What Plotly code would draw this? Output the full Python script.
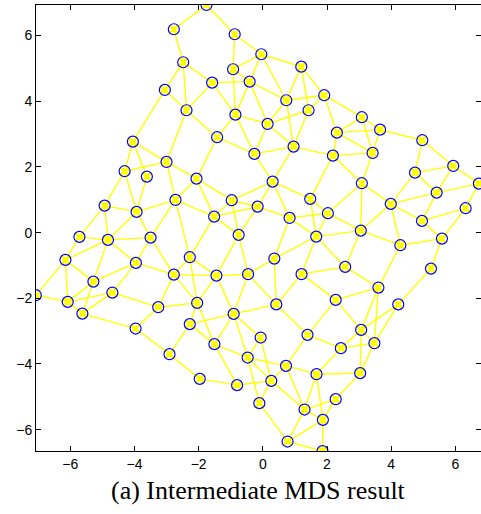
import plotly.graph_objects as go

# Node positions (data units)
node_x = [-1.757, -2.774, -0.877, -2.482, -0.047, -0.927, 1.198, -3.054, -1.580, -0.411,
          1.913, 0.731, -2.379, -0.855, 1.425, 3.086, 0.149, 3.655, 2.308, -4.050,
          -1.425, 4.970, 0.958, -0.264, 2.184, 3.421, -3.002, -4.308, -3.614, 5.935,
          4.743, 6.734, 3.086, -2.068, 0.305, 5.418, -2.722, -4.930, -3.935, 1.477,
          -0.970, 3.988, 6.320, -0.162, 2.028, -1.518, 0.834, 4.961, 3.054, -5.717,
          -4.827, -3.499, -0.753, 1.664, 5.583, 4.286, -2.277, -6.152, 0.358, -2.774,
          -1.446, -0.460, 1.207, 2.566, 5.241, -5.281, -4.690, -7.076, 3.602, -6.081,
          -3.260, -2.047, 0.420, 2.271, 4.221, -5.624, -0.908, -2.277, -3.966, 3.064,
          -0.068, 1.393, -1.509, 3.477, 2.432, -2.908, -0.473, 0.722, 1.673, 3.033,
          -1.966, 0.264, -0.802, 2.271, -0.109, 1.300, 1.872, 0.771, 1.860, -3.956]
node_y = [6.932, 6.192, 6.040, 5.187, 5.431, 4.974, 5.053, 4.344, 4.566, 4.597,
          4.183, 4.030, 3.726, 3.592, 3.726, 3.513, 3.309, 3.135, 3.044, 2.770,
          2.904, 2.813, 2.618, 2.396, 2.344, 2.426, 2.152, 1.869, 1.705, 2.030,
          1.826, 1.492, 1.504, 1.644, 1.553, 1.218, 0.995, 0.822, 0.630, 1.026,
          0.986, 0.874, 0.743, 0.791, 0.591, 0.487, 0.447, 0.356, 0.061, -0.131,
          -0.222, -0.152, -0.070, -0.122, -0.183, -0.384, -0.749, -0.831, -0.791, -1.279,
          -1.309, -1.266, -1.266, -1.044, -1.096, -1.492, -1.826, -1.906, -1.674, -2.110,
          -2.271, -2.140, -2.186, -2.049, -2.186, -2.466, -2.475, -2.788, -2.922, -2.962,
          -3.196, -3.114, -3.397, -3.367, -3.519, -3.702, -3.805, -4.058, -4.311, -4.280,
          -4.454, -4.514, -4.645, -5.072, -5.193, -5.388, -5.702, -6.362, -6.654, -0.922]

# Edges (1-based node numbers)
edge_from = [1, 1, 2, 3, 3, 4, 4, 4, 5, 5, 5, 5, 6, 6, 7, 7, 7, 8, 8, 9, 9, 9,
             10, 10, 10, 11, 11, 11, 11, 12, 12, 13, 13, 14, 14, 14, 15, 15,
             16, 16, 16, 17, 17, 18, 18, 18, 19, 19, 20, 20, 20, 21, 21, 22, 22,
             23, 23, 23, 25, 25, 25, 26, 27, 27, 27, 28, 28, 29, 30, 30, 30,
             31, 31, 32, 32, 33, 33, 33, 34, 34, 34, 35, 35, 35, 35, 24, 36, 36,
             37, 37, 37, 37, 38, 38, 38, 39, 39, 40, 40, 41, 41, 41, 42, 42, 42,
             43, 43, 44, 44, 44, 45, 45, 45, 46, 46, 47, 47, 48, 49, 49, 49,
             50, 50, 51, 51, 51, 51, 52, 52, 53, 53, 54, 54, 54, 55, 55, 56,
             57, 57, 57, 58, 58, 58, 59, 59, 60, 60, 60, 60, 61, 61, 61, 62, 62,
             63, 63, 63, 64, 65, 66, 66, 66, 67, 67, 67, 67, 68, 69, 69, 69, 70,
             71, 71, 72, 72, 73, 73, 74, 74, 75, 75, 76, 77, 77, 77, 77, 78, 78,
             79, 80, 80, 80, 81, 81, 82, 82, 83, 83, 84, 84, 85, 86, 87, 87, 87,
             88, 88, 88, 89, 89, 89, 90, 91, 92, 92, 92, 94, 94, 95, 96, 96,
             97, 97, 98]
edge_to = [2, 3, 4, 5, 6, 8, 9, 13, 6, 7, 10, 12, 10, 14, 11, 12, 15, 13, 20, 10, 13, 14,
           12, 14, 17, 12, 15, 16, 19, 17, 23, 21, 27, 17, 21, 24, 17, 23,
           18, 19, 26, 23, 24, 19, 22, 26, 25, 26, 27, 28, 29, 24, 34, 30, 31,
           24, 25, 35, 26, 33, 40, 33, 28, 34, 37, 38, 39, 39, 31, 32, 36,
           36, 42, 36, 43, 42, 49, 45, 37, 41, 46, 40, 41, 44, 47, 35, 42, 48,
           39, 46, 52, 57, 39, 50, 51, 51, 52, 45, 54, 44, 46, 53, 48, 49, 56,
           48, 55, 46, 47, 53, 47, 54, 49, 53, 57, 54, 59, 55, 54, 56, 64,
           51, 58, 52, 58, 100, 66, 100, 60, 61, 62, 59, 63, 64, 56, 65, 69,
           60, 61, 72, 66, 68, 70, 62, 73, 61, 71, 72, 100, 62, 72, 77, 73, 77,
           64, 73, 74, 69, 75, 70, 76, 100, 70, 71, 76, 100, 70, 74, 80, 84, 76,
           72, 79, 78, 83, 77, 82, 80, 82, 80, 84, 79, 78, 83, 81, 87, 83, 86,
           86, 84, 85, 90, 87, 92, 85, 88, 87, 93, 85, 90, 89, 91, 88, 92, 95,
           89, 92, 96, 90, 96, 97, 94, 93, 93, 95, 96, 96, 97, 98, 97, 98,
           98, 99, 99]

x_ticks = [-6, -4, -2, 0, 2, 4, 6]
y_ticks = [-6, -4, -2, 0, 2, 4, 6]
caption = "(a) Intermediate MDS result"

ex, ey = [], []
for a, b in zip(edge_from, edge_to):
    ex += [node_x[a - 1], node_x[b - 1], None]
    ey += [node_y[a - 1], node_y[b - 1], None]

fig = go.Figure()
fig.add_trace(go.Scatter(x=ex, y=ey, mode="lines",
                         line=dict(color="#ffff00", width=1.4),
                         hoverinfo="skip", showlegend=False))
fig.add_trace(go.Scatter(x=node_x, y=node_y, mode="markers",
                         marker=dict(symbol="x-thin-open", size=7, color="#ffff00",
                                     line=dict(color="#ffff00", width=3)),
                         showlegend=False))
fig.add_trace(go.Scatter(x=node_x, y=node_y, mode="markers",
                         marker=dict(symbol="circle-open", size=11, color="#0000ff",
                                     line=dict(color="#0000ff", width=1.2)),
                         showlegend=False))

axis_common = dict(showgrid=False, zeroline=False, showline=True, linecolor="black",
                   linewidth=1, mirror="allticks", ticks="inside", ticklen=5,
                   tickcolor="black", automargin=False,
                   tickfont=dict(family="Liberation Sans, Arial, sans-serif",
                                 size=14, color="black"))
fig.update_xaxes(range=[-7.07, 6.80], tickvals=x_ticks, **axis_common)
fig.update_yaxes(range=[-6.65, 6.93], tickvals=y_ticks, **axis_common)

fig.add_annotation(text=caption, xref="paper", yref="paper", x=0.499, y=-0.0875,
                   xanchor="center", yanchor="middle", showarrow=False,
                   font=dict(family="Liberation Serif, Times New Roman, serif",
                             size=26, color="black"))

fig.update_layout(template="none", width=481, height=514,
                  margin=dict(l=36, r=0, t=5, b=63),
                  plot_bgcolor="white", paper_bgcolor="white")
fig.write_html("out.html",
               config={"displayModeBar": False},
               post_script="document.body.style.margin='0';document.body.style.overflow='hidden';")
